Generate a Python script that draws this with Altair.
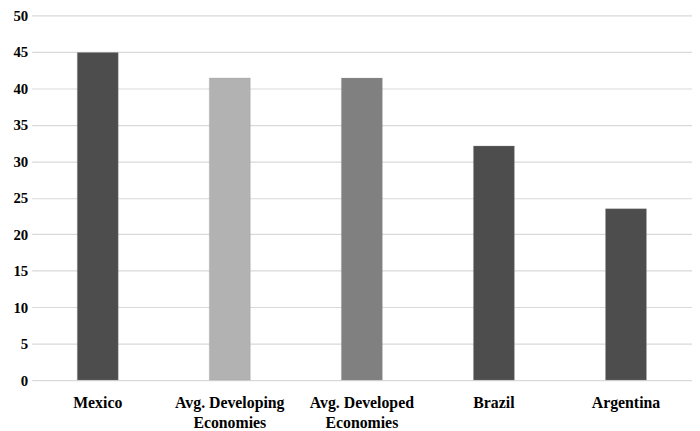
import altair as alt
import pandas as pd

categories = ["Mexico", "Avg. Developing Economies", "Avg. Developed Economies", "Brazil", "Argentina"]
values = [44.9, 41.4, 41.4, 32.1, 23.5]
colors = ["#4d4d4d", "#b2b2b2", "#808080", "#4d4d4d", "#4d4d4d"]
y_ticks = [0, 5, 10, 15, 20, 25, 30, 35, 40, 45, 50]

df = pd.DataFrame({"category": categories, "value": values, "color": colors})

label_expr = ("indexof(datum.label, ' Economies') > 0 ? "
              "[replace(datum.label, ' Economies', ''), 'Economies'] : datum.label")

serif = "Times New Roman, Liberation Serif, serif"

chart = alt.Chart(df).mark_bar(strokeWidth=0.6, stroke="#9a9a9a", strokeOpacity=0.5).encode(
    x=alt.X("category:N", sort=categories, title=None,
            scale=alt.Scale(paddingInner=0.69, paddingOuter=0.345),
            axis=alt.Axis(labelAngle=0, labelExpr=label_expr, ticks=False, domain=False,
                          labelFont=serif, labelFontWeight="bold",
                          labelFontSize=16, labelColor="#000000", labelPadding=28,
                          labelLineHeight=19.5, labelBaseline="alphabetic", grid=False)),
    y=alt.Y("value:Q", title=None,
            scale=alt.Scale(domain=[0, 50], nice=False),
            axis=alt.Axis(values=y_ticks, ticks=False, domain=False, grid=True,
                          gridColor="#d9d9d9", gridWidth=1.2,
                          labelFont=serif, labelFontWeight="bold",
                          labelFontSize=15, labelColor="#000000", labelPadding=4)),
    color=alt.Color("color:N", scale=None),
).properties(
    width=668, height=369,
    autosize=alt.AutoSizeParams(type="none"),
    padding={"left": 24, "top": 5, "right": 0, "bottom": 49},
).configure_view(stroke=None)

chart.save("out.html", embed_options={"renderer": "svg", "actions": False})
